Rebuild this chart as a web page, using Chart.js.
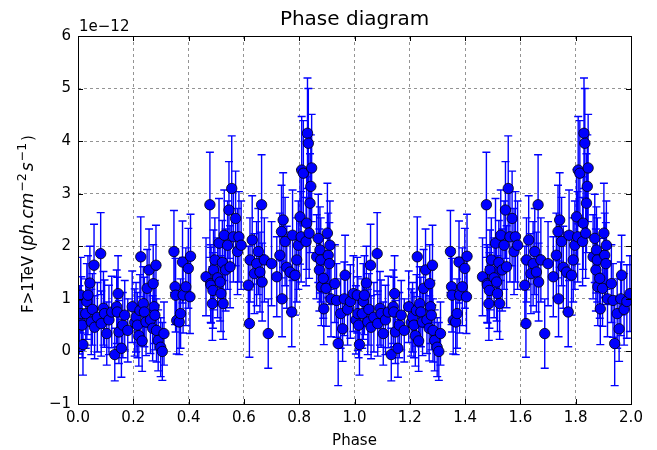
<!DOCTYPE html>
<html><head><meta charset="utf-8">
<script src="https://cdn.jsdelivr.net/npm/chart.js@4.4.1/dist/chart.umd.min.js"></script>
<style>html,body{margin:0;padding:0;background:#fff;}#wrap{width:657px;height:450px;}</style>
</head><body><div id="wrap"><canvas id="c" width="657" height="450"></canvas></div>
<script>
// Phase-folded light curve, flux in units of 1e-12 ph cm^-2 s^-1 (shown for two cycles)
const phases = [
0.005,0.010,0.012,0.015,0.018,0.028,0.032,0.036,0.043,0.048,
0.052,0.058,0.060,0.070,0.082,0.084,0.092,0.096,0.104,0.112,
0.122,0.133,0.140,0.142,0.145,0.148,0.157,0.162,0.169,0.180,
0.196,0.205,0.210,0.215,0.220,0.224,0.227,0.232,0.236,0.240,
0.246,0.250,0.257,0.262,0.270,0.272,0.275,0.278,0.282,0.284,
0.290,0.299,0.305,0.311,0.347,0.351,0.353,0.357,0.366,0.371,
0.378,0.380,0.390,0.399,0.405,0.407,0.463,0.477,0.480,0.481,
0.486,0.488,0.490,0.495,0.505,0.510,0.514,0.517,0.522,0.525,
0.529,0.534,0.541,0.546,0.550,0.556,0.562,0.570,0.577,0.582,
0.590,0.616,0.620,0.622,0.630,0.638,0.646,0.652,0.658,0.664,
0.666,0.674,0.688,0.700,0.719,0.730,0.736,0.738,0.742,0.749,
0.755,0.767,0.773,0.776,0.785,0.791,0.797,0.803,0.807,0.809,
0.815,0.825,0.827,0.830,0.833,0.836,0.839,0.842,0.845,0.863,
0.869,0.873,0.875,0.878,0.880,0.887,0.889,0.897,0.902,0.905,
0.909,0.911,0.915,0.929,0.935,0.941,0.950,0.957,0.963,0.966,
0.975,0.985,0.996
];
const flux = [
0.60,1.07,0.72,0.50,0.13,0.72,0.95,1.07,1.30,0.56,
0.80,1.64,0.46,0.65,1.86,0.53,0.82,0.72,0.34,0.60,
0.75,-0.06,0.85,0.75,1.10,0.37,0.06,0.50,0.69,0.40,
0.85,0.55,0.65,0.50,0.30,0.78,1.80,0.20,0.91,0.75,
0.56,1.20,1.55,0.60,0.44,1.29,0.85,0.69,1.64,0.40,
0.21,0.08,0.00,0.34,1.90,1.23,1.07,0.59,0.56,0.72,
1.70,1.07,1.23,1.58,1.04,1.81,1.42,2.79,1.29,1.26,
0.91,1.16,1.55,1.74,1.40,2.06,1.32,1.10,1.69,0.91,
2.21,1.55,2.02,2.69,1.61,3.10,2.18,2.53,1.90,2.18,
2.02,1.26,0.53,1.74,2.12,1.48,1.67,1.90,1.51,2.79,
1.32,1.74,0.34,1.67,1.42,1.83,2.28,1.00,2.50,2.09,
1.60,1.51,0.75,2.21,1.45,1.74,2.02,2.56,2.18,3.45,
3.39,2.09,2.44,4.15,3.96,2.25,2.82,3.14,3.49,1.80,
2.15,1.55,1.93,1.74,1.23,1.39,0.81,1.20,2.25,1.83,
1.67,2.02,1.00,1.29,0.97,0.15,0.72,0.43,1.00,1.45,
0.80,0.95,1.10
];
const fluxErr = [
0.65,0.72,0.70,0.62,0.58,0.66,0.72,0.75,0.70,0.62,
0.68,0.78,0.60,0.66,0.78,0.62,0.70,0.64,0.60,0.66,
0.68,0.50,0.70,0.66,0.72,0.60,0.55,0.62,0.66,0.60,
0.68,0.64,0.66,0.62,0.58,0.68,0.76,0.58,0.70,0.66,
0.64,0.74,0.78,0.64,0.62,0.74,0.70,0.66,0.76,0.60,
0.58,0.56,0.55,0.60,0.78,0.72,0.70,0.64,0.62,0.66,
0.78,0.72,0.74,0.76,0.70,0.80,0.74,1.00,0.74,0.72,
0.70,0.72,0.76,0.80,0.76,0.85,0.74,0.72,0.80,0.68,
0.86,0.78,0.84,0.92,0.78,1.00,0.86,0.90,0.82,0.86,
0.84,0.74,0.64,0.80,0.84,0.76,0.80,0.82,0.76,0.95,
0.74,0.80,0.66,0.80,0.76,0.80,0.88,0.72,0.90,0.84,
0.78,0.76,0.66,0.86,0.76,0.80,0.84,0.90,0.86,1.02,
1.00,0.84,0.88,1.05,1.04,0.86,0.94,0.98,1.02,0.80,
0.84,0.78,0.82,0.80,0.74,0.76,0.68,0.72,0.95,0.80,
0.78,0.84,0.72,0.74,0.70,0.80,0.66,0.62,0.70,0.76,
0.68,0.70,0.72
];
const cycles = [0, 1];               // the folded curve is drawn twice
const xTicks = [0,0.2,0.4,0.6,0.8,1.0,1.2,1.4,1.6,1.8,2.0];
const yTicks = [-1,0,1,2,3,4,5,6];
const chartTitle = 'Phase diagram';
const xTitle = 'Phase';
const offsetText = '1e\u221212';

const FONT = 'DejaVu Sans';
const BLUE = '#0000ff';

const points = [];
cycles.forEach(c => phases.forEach((p, i) => points.push({x: p + c, y: flux[i], e: fluxErr[i]})));

const decor = {
  id: 'decor',
  beforeDatasetsDraw(chart) {
    const {ctx, chartArea: a, scales: {x, y}} = chart;
    ctx.save();
    ctx.beginPath(); ctx.rect(a.left, a.top, a.right - a.left, a.bottom - a.top); ctx.clip();
    ctx.strokeStyle = BLUE; ctx.lineWidth = 1.4; ctx.setLineDash([]);
    const cap = 4;
    points.forEach(p => {
      const px = x.getPixelForValue(p.x);
      const y1 = y.getPixelForValue(p.y - p.e), y2 = y.getPixelForValue(p.y + p.e);
      ctx.beginPath();
      ctx.moveTo(px, y1); ctx.lineTo(px, y2);
      ctx.moveTo(px - cap, y1); ctx.lineTo(px + cap, y1);
      ctx.moveTo(px - cap, y2); ctx.lineTo(px + cap, y2);
      ctx.stroke();
    });
    ctx.restore();
  },
  afterDraw(chart) {
    const {ctx, chartArea: a, scales: {x, y}} = chart;
    ctx.save();
    ctx.setLineDash([]);
    ctx.strokeStyle = '#000'; ctx.lineWidth = 1;
    const tl = 5;
    ctx.beginPath();
    xTicks.forEach(v => {
      const px = Math.round(x.getPixelForValue(v)) + 0.5;
      ctx.moveTo(px, a.bottom); ctx.lineTo(px, a.bottom - tl);
      ctx.moveTo(px, a.top); ctx.lineTo(px, a.top + tl);
    });
    yTicks.forEach(v => {
      const py = Math.round(y.getPixelForValue(v)) + 0.5;
      ctx.moveTo(a.left, py); ctx.lineTo(a.left + tl, py);
      ctx.moveTo(a.right, py); ctx.lineTo(a.right - tl, py);
    });
    ctx.stroke();
    ctx.strokeRect(Math.round(a.left) + 0.5, Math.round(a.top) + 0.5,
                   Math.round(a.right - a.left), Math.round(a.bottom - a.top));
    ctx.fillStyle = '#000';
    ctx.font = '20px "' + FONT + '"';
    ctx.textAlign = 'center'; ctx.textBaseline = 'middle';
    ctx.fillText(chartTitle, (a.left + a.right) / 2, 20);
    ctx.font = '15px "' + FONT + '"';
    ctx.textAlign = 'left'; ctx.textBaseline = 'alphabetic';
    ctx.fillText(offsetText, a.left + 1, a.top - 5);
    const segs = [
      {t: 'F>1TeV (', f: '15px "' + FONT + '"', dy: 0, gap: 0},
      {t: 'ph.cm', f: 'italic 17px "' + FONT + '"', dy: 0, gap: 1},
      {t: '\u22122', f: '12.5px "' + FONT + '"', dy: -7, gap: 2},
      {t: 's', f: 'italic 17px "' + FONT + '"', dy: 0, gap: 1},
      {t: '\u22121', f: '12.5px "' + FONT + '"', dy: -7, gap: 2},
      {t: ')', f: '15px "' + FONT + '"', dy: 0, gap: 0}
    ];
    let total = 0;
    segs.forEach(s => { ctx.font = s.f; s.w = ctx.measureText(s.t).width + s.gap; total += s.w; });
    ctx.translate(28, 224);
    ctx.rotate(-Math.PI / 2);
    let cx = -total / 2;
    segs.forEach(s => { ctx.font = s.f; ctx.fillText(s.t, cx, 5 + s.dy); cx += s.w; });
    ctx.restore();
  }
};

new Chart(document.getElementById('c'), {
  type: 'scatter',
  data: {
    datasets: [{
      data: points,
      backgroundColor: BLUE,
      borderColor: '#000',
      borderWidth: 0.8,
      pointRadius: 5.2,
      pointHoverRadius: 5.2,
      clip: 0
    }]
  },
  options: {
    responsive: false,
    animation: false,
    devicePixelRatio: 1,
    layout: {padding: {top: 36, right: 26, left: 0, bottom: 0}},
    plugins: {legend: {display: false}, tooltip: {enabled: false}, title: {display: false}},
    scales: {
      x: {
        type: 'linear', min: 0, max: 2,
        afterBuildTicks: s => { s.ticks = xTicks.map(v => ({value: v})); },
        afterFit: s => { s.height = 46; },
        ticks: {callback: v => Number(v).toFixed(1), color: '#000', font: {family: FONT, size: 15}, padding: 5, maxRotation: 0, autoSkip: false},
        grid: {color: 'rgba(0,0,0,0.42)', lineWidth: 1, drawTicks: false},
        border: {display: false, dash: [3, 3]},
        title: {display: true, text: xTitle, color: '#000', font: {family: FONT, size: 15}, padding: {top: 1, bottom: 0}}
      },
      y: {
        type: 'linear', min: -1, max: 6,
        afterBuildTicks: s => { s.ticks = yTicks.map(v => ({value: v})); },
        afterFit: s => { s.width = 78; },
        ticks: {callback: v => v < 0 ? '\u2212' + Math.abs(v) : String(v), color: '#000', font: {family: FONT, size: 15}, padding: 7},
        grid: {color: 'rgba(0,0,0,0.42)', lineWidth: 1, drawTicks: false},
        border: {display: false, dash: [3, 3]}
      }
    }
  },
  plugins: [decor]
});
</script>
</body></html>
